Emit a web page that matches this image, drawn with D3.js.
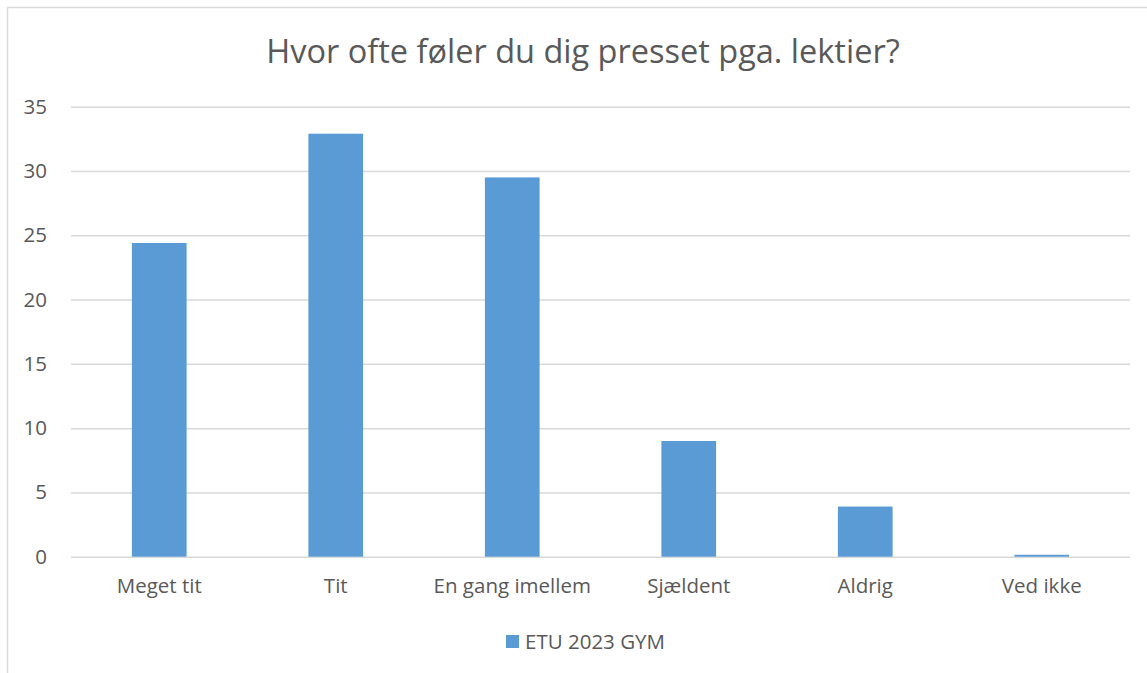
<!DOCTYPE html>
<html>
<head>
<meta charset="utf-8">
<script src="https://cdn.jsdelivr.net/npm/d3@7"></script>
<style>
  html, body { margin: 0; padding: 0; background: #fff; }
  svg { display: block; }
  text { font-family: "Open Sans", "Noto Sans", sans-serif; fill: #595959; }
</style>
</head>
<body>
<svg id="chart" width="1147" height="673"></svg>
<script>
// Survey answers: how often pupils feel pressured by homework
const categories = ["Meget tit", "Tit", "En gang imellem", "Sjældent", "Aldrig", "Ved ikke"];
const values = [24.4, 32.9, 29.5, 9.0, 3.9, 0.15];
const yTicks = [0, 5, 10, 15, 20, 25, 30, 35];
const seriesName = "ETU 2023 GYM";
const titleText = "Hvor ofte føler du dig presset pga. lektier?";

const svg = d3.select("#chart");
const W = 1147, H = 673;
const plot = { left: 71, right: 1130, top: 106.7, bottom: 556.7 };
const labelSize = 20.5;

// outer chart frame
svg.append("rect")
  .attr("x", 7.5).attr("y", 7.5)
  .attr("width", W + 10).attr("height", H + 10)
  .attr("fill", "none").attr("stroke", "#d9d9d9").attr("stroke-width", 1.5);

const x = d3.scaleBand().domain(categories).range([plot.left, plot.right]).paddingInner(0.69).paddingOuter(0.345);
const y = d3.scaleLinear().domain([0, 35]).range([plot.bottom, plot.top]);

// horizontal gridlines
svg.append("g").attr("class", "grid")
  .attr("transform", `translate(${plot.left},0)`)
  .call(d3.axisLeft(y).tickValues(yTicks).tickSize(-(plot.right - plot.left)).tickFormat(""))
  .call(g => g.select(".domain").remove())
  .call(g => g.selectAll("line").attr("stroke", "#d9d9d9").attr("stroke-width", 1.5));

// y axis labels
svg.append("g")
  .attr("transform", `translate(${plot.left},0)`)
  .call(d3.axisLeft(y).tickValues(yTicks).tickSize(0).tickPadding(24))
  .call(g => g.select(".domain").remove())
  .call(g => g.selectAll("text").attr("font-size", labelSize).style("fill", "#595959")
    .style("font-family", "'Open Sans', sans-serif"));

// bars
svg.append("g").selectAll("rect")
  .data(values)
  .join("rect")
  .attr("x", (d, i) => x(categories[i]))
  .attr("width", x.bandwidth())
  .attr("y", d => y(d))
  .attr("height", d => y(0) - y(d))
  .attr("fill", "#5b9bd5");

// x axis labels
svg.append("g")
  .attr("transform", `translate(0,${plot.bottom})`)
  .call(d3.axisBottom(x).tickSize(0).tickPadding(22))
  .call(g => g.select(".domain").remove())
  .call(g => g.selectAll("text").attr("font-size", labelSize).style("fill", "#595959")
    .style("font-family", "'Open Sans', sans-serif"));

// title
svg.append("text")
  .attr("x", 583).attr("y", 63)
  .attr("text-anchor", "middle")
  .attr("font-size", 32.5)
  .text(titleText);

// legend
const legend = svg.append("g").attr("transform", "translate(506,635)");
legend.append("rect").attr("width", 13).attr("height", 13).attr("fill", "#5b9bd5");
legend.append("text").attr("x", 19).attr("y", 13.5).attr("font-size", labelSize).text(seriesName);
</script>
</body>
</html>
